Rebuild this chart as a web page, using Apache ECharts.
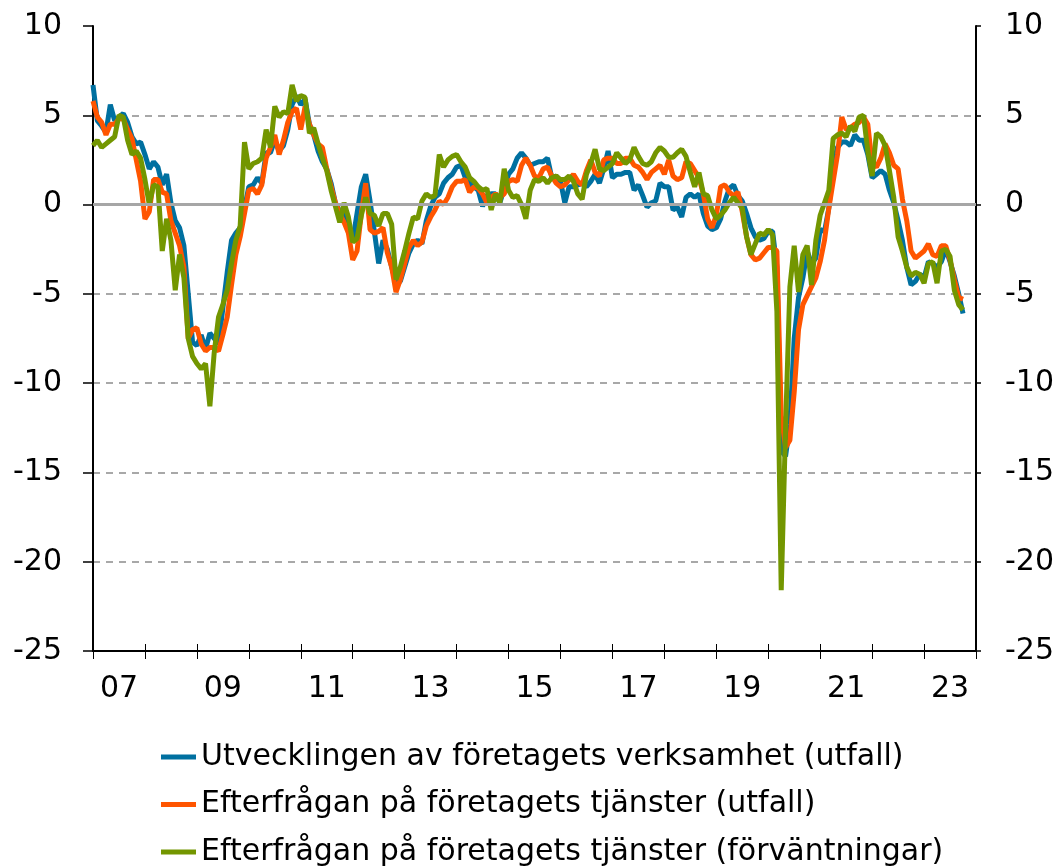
<!DOCTYPE html>
<html>
<head>
<meta charset="utf-8">
<script src="https://cdn.jsdelivr.net/npm/echarts@6/dist/echarts.min.js"></script>
<style>
  html, body { margin: 0; padding: 0; background: #fff; }
  #main { width: 1061px; height: 868px; }
</style>
</head>
<body>
<div id="main"></div>
<script>
// månadsdata jan 2007 - okt 2023
var seriesNames = [
  'Utvecklingen av företagets verksamhet (utfall)',
  'Efterfrågan på företagets tjänster (utfall)',
  'Efterfrågan på företagets tjänster (förväntningar)'
];

var verksamhetUtfall = [
  6.7, 4.7, 4.4, 4.05, 5.6, 4.7, 4.9, 5.1, 4.6, 3.8, 3.4, 3.5,
  2.8, 2.0, 2.4, 2.1, 1.1, 1.7, 0.1, -0.9, -1.3, -2.3, -5.0, -7.7,
  -7.9, -7.3, -8.1, -7.2, -7.5, -7.8, -5.8, -3.8, -2.0, -1.6, -1.3, -0.2,
  1.0, 1.1, 1.5, 1.2, 2.9, 2.9, 3.6, 3.0, 3.3, 4.2, 5.6, 6.1,
  5.6, 5.9, 4.5, 3.9, 3.0, 2.4, 2.0, 1.2, 0.1, -0.4, -0.4, -1.1,
  -2.0, -0.5, 1.0, 1.7, 0.2, -1.5, -3.3, -2.0, -2.5, -3.5, -4.4, -4.3,
  -3.5, -2.7, -2.2, -2.0, -2.2, -0.9, -0.1, 0.4, 0.6, 1.2, 1.5, 1.7,
  2.1, 2.2, 1.5, 1.2, 1.0, 0.8, -0.1, 0.5, 0.6, 0.6, 0.1, 0.9,
  1.7, 2.0, 2.6, 2.9, 2.6, 2.2, 2.3, 2.4, 2.4, 2.6, 1.5, 1.6,
  1.3, 0.1, 1.0, 1.0, 1.1, 1.2, 1.0, 1.3, 1.7, 1.2, 2.0, 3.0,
  1.5, 1.7, 1.7, 1.8, 1.8, 0.8, 1.1, 0.5, -0.15, 0.1, 0.2, 1.2,
  1.0, 1.0, -0.3, -0.15, -0.7, 0.4, 0.6, 0.4, 0.6, -0.5, -1.2, -1.4,
  -1.3, -0.8, 0.2, 0.9, 1.1, 0.5, 0.2, -0.5, -1.3, -1.8, -2.0, -1.9,
  -1.5, -1.5, -3.5, -13.8, -14.1, -12.3, -7.5, -5.2, -4.1, -2.6, -3.3, -3.0,
  -1.4, -1.5, -0.2, 2.2, 3.2, 3.5, 3.5, 3.3, 3.9, 3.6, 3.6, 2.8,
  1.5, 1.7, 1.9, 1.7, 0.8, 0.1, -0.9, -2.0, -3.5, -4.5, -4.3, -3.9,
  -4.1, -3.2, -3.3, -3.5, -3.2, -2.5, -3.2, -4.0, -5.0, -6.1
];

var efterfraganUtfall = [
  5.8, 4.9, 4.6, 3.9, 4.5, 4.5, 4.8, 4.8, 4.2, 3.7, 2.5, 1.3,
  -0.8, -0.4, 1.4, 1.4, 0.7, 0.6, -0.9, -1.6, -2.3, -3.5, -7.5, -7.0,
  -6.9, -7.8, -8.2, -8.0, -8.0, -8.2, -7.3, -6.3, -4.5, -2.8, -1.8, -0.5,
  0.8, 0.9, 0.6, 1.1, 2.6, 3.2, 3.9, 2.8, 3.6, 4.6, 5.2, 5.4,
  4.2, 5.5, 4.5, 3.9, 3.4, 3.2, 2.0, 1.0, 0.1, -0.5, -1.0, -1.6,
  -3.1, -2.6, -0.5, 1.2, -1.4, -1.6, -1.5, -1.3, -2.7, -3.5, -4.9, -4.2,
  -3.3, -2.4, -2.0, -2.3, -2.1, -1.2, -0.7, -0.3, 0.2, 0.0, 0.4, 1.0,
  1.3, 1.3, 1.4, 0.7, 1.0, 0.9, 0.6, 0.1, 0.4, 0.6, 0.4, 0.6,
  1.3, 1.4, 1.3, 2.2, 2.6, 2.2, 1.6, 1.5, 2.0, 2.1, 1.6, 1.2,
  1.0, 1.1, 1.4, 1.7, 1.3, 1.1, 1.9, 2.5, 1.8, 1.6, 2.5, 2.6,
  2.6, 2.3, 2.3, 2.6, 2.6, 2.2, 2.1, 1.8, 1.4, 1.8, 2.0, 2.2,
  1.7, 2.5, 1.6, 1.4, 1.5, 2.4, 2.3, 1.9, 1.5, 0.6, -0.8, -1.3,
  -0.6, 1.0, 1.1, 0.7, 0.5, 0.7, -0.4, -1.8, -2.8, -3.1, -3.0, -2.7,
  -2.4, -2.4, -2.6, -11.8, -13.6, -13.2, -10.5, -7.0, -5.6, -5.1, -4.6, -4.1,
  -3.2, -2.0, -0.2, 1.3, 2.8, 4.9, 4.2, 4.3, 4.5, 4.6, 4.9, 4.5,
  2.3, 2.1, 2.6, 3.4, 2.9, 2.2, 2.0, 0.3, -0.9, -2.6, -3.0, -2.8,
  -2.6, -2.2, -2.8, -2.9, -2.3, -2.3, -3.1, -4.2, -5.2, -5.3
];

var efterfraganForvantningar = [
  3.3, 3.6, 3.2, 3.4, 3.6, 3.8, 5.0, 4.9, 3.6, 2.8, 3.0, 2.6,
  1.4, 0.0, 1.1, 1.0, -2.6, -0.8, -2.0, -4.8, -2.8, -4.1, -7.5, -8.5,
  -8.9, -9.2, -8.9, -11.3, -8.3, -6.3, -5.6, -4.8, -3.3, -2.0, -1.2, 3.5,
  2.0, 2.3, 2.4, 2.6, 4.2, 3.2, 5.5, 4.9, 5.2, 5.1, 6.7, 5.8,
  6.1, 6.0, 4.0, 4.3, 3.4, 2.6, 1.9, 0.8, -0.1, -1.0, 0.1, -0.7,
  -2.1, -1.9, -0.6, 0.4, -0.5, -0.6, -1.2, -0.5, -0.5, -1.1, -4.2, -3.5,
  -2.6, -1.6, -0.7, -0.8, 0.2, 0.6, 0.4, 0.5, 2.8, 2.1, 2.5, 2.7,
  2.8, 2.4, 2.1, 1.5, 1.3, 1.0, 0.8, 0.9, -0.3, 0.6, 0.1, 2.0,
  0.8, 0.4, 0.5, 0.0, -0.8, 0.8, 1.4, 1.3, 1.5, 1.2, 1.5, 1.6,
  1.4, 1.4, 1.6, 1.3, 0.6, 0.3, 1.7, 2.3, 3.1, 2.0, 1.9, 2.1,
  2.3, 2.9, 2.6, 2.3, 2.5, 3.2, 2.7, 2.3, 2.2, 2.4, 2.9, 3.2,
  3.0, 2.65, 2.65, 2.9, 3.1, 2.7, 1.8, 1.0, 1.8, 0.6, 0.5, -0.3,
  -0.8, -0.6, -0.3, 0.1, 0.4, 0.1, -0.2, -1.8, -2.8, -2.2, -1.6, -1.7,
  -1.4, -1.7, -6.0, -21.6, -12.5, -4.6, -2.3, -4.9, -2.8, -2.3, -4.5, -2.0,
  -0.6, 0.1, 0.8, 3.7, 3.9, 4.0, 3.8, 4.4, 4.1, 4.9, 5.0, 3.0,
  1.6, 4.0, 3.8, 3.3, 1.9, 0.4, -1.8, -2.6, -3.5, -4.0, -3.8, -3.9,
  -4.4, -3.3, -3.2, -4.4, -2.6, -2.5, -2.9, -4.8, -5.6, -5.9
];

// kategorier: jan 2007 .. jan 2024 (sista = högerkant)
var months = [];
for (var y = 2007; y <= 2024; y++) {
  for (var m = 1; m <= 12; m++) {
    months.push(y + '-' + (m < 10 ? '0' + m : m));
    if (y === 2024) break;
  }
}

var colorList = ['#0070A0', '#FF5500', '#739600'];
var fontFamily = '"DejaVu Sans", Verdana, sans-serif';

var myChart = echarts.init(document.getElementById('main'));

var yearTick = function (index) { return index % 12 === 0; };

var option = {
  animation: false,
  backgroundColor: '#fff',
  textStyle: { fontFamily: fontFamily },
  grid: { left: 93, right: 85, top: 26, bottom: 217, containLabel: false },
  legend: {
    orient: 'vertical',
    left: 161,
    top: 742,
    bottom: 0,
    padding: 0,
    itemGap: 17.5,
    itemWidth: 35,
    itemHeight: 5,
    icon: 'rect',
    textStyle: { fontSize: 30, color: '#000', fontFamily: fontFamily, lineHeight: 29 },
    data: seriesNames
  },
  xAxis: [
    {
      type: 'category',
      data: months,
      boundaryGap: false,
      axisLine: { show: true, onZero: false, lineStyle: { color: '#000', width: 2 } },
      axisTick: { show: true, interval: yearTick, length: 8, lineStyle: { color: '#000', width: 1 } },
      axisLabel: {
        interval: function (index) { return index % 24 === 6; },
        formatter: function (v) { return v.slice(2, 4); },
        fontSize: 30,
        color: '#000',
        margin: 23
      },
      splitLine: { show: false }
    },
    {
      type: 'category',
      data: months,
      boundaryGap: false,
      position: 'bottom',
      axisLine: { show: false, onZero: false },
      axisTick: { show: true, inside: true, interval: yearTick, length: 7, lineStyle: { color: '#000', width: 1 } },
      axisLabel: { show: false },
      splitLine: { show: false }
    }
  ],
  yAxis: [
    {
      type: 'value',
      min: -25,
      max: 10,
      interval: 5,
      position: 'left',
      axisLine: { show: true, lineStyle: { color: '#000', width: 2 } },
      axisTick: { show: true, length: 10, lineStyle: { color: '#000', width: 1.5 } },
      axisLabel: { fontSize: 30, color: '#000', margin: 31 },
      splitLine: {
        show: true,
        showMaxLine: false,
        lineStyle: { color: '#8c8c8c', type: [7, 6], width: 1.5 }
      }
    },
    {
      type: 'value',
      min: -25,
      max: 10,
      interval: 5,
      position: 'right',
      axisLine: { show: true, lineStyle: { color: '#000', width: 2 } },
      axisTick: { show: true, length: 5, lineStyle: { color: '#000', width: 1.5 } },
      axisLabel: { fontSize: 30, color: '#000', margin: 29 },
      splitLine: { show: false }
    }
  ],
  series: [
    {
      name: seriesNames[0],
      type: 'line',
      data: verksamhetUtfall,
      showSymbol: false,
      lineStyle: { color: colorList[0], width: 5 },
      itemStyle: { color: colorList[0] },
      markLine: {
        silent: true,
        symbol: 'none',
        label: { show: false },
        lineStyle: { color: '#a6a6a6', type: 'solid', width: 3 },
        data: [{ yAxis: 0 }]
      }
    },
    {
      name: seriesNames[1],
      type: 'line',
      data: efterfraganUtfall,
      showSymbol: false,
      lineStyle: { color: colorList[1], width: 5 },
      itemStyle: { color: colorList[1] }
    },
    {
      name: seriesNames[2],
      type: 'line',
      data: efterfraganForvantningar,
      showSymbol: false,
      lineStyle: { color: colorList[2], width: 5 },
      itemStyle: { color: colorList[2] }
    }
  ]
};

option && myChart.setOption(option);
</script>
</body>
</html>
